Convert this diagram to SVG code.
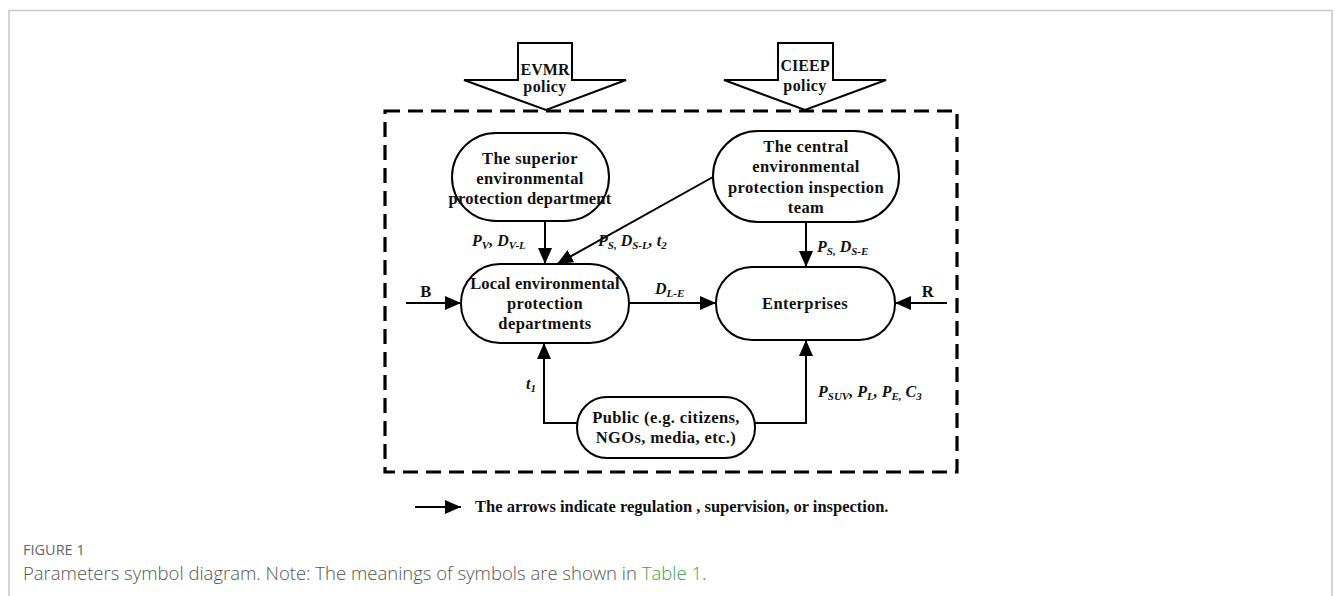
<svg xmlns="http://www.w3.org/2000/svg" width="1335" height="596" viewBox="0 0 1335 596">
<style>
.frame{fill:none;stroke:#c8c8c8;stroke-width:1.5}
.node{fill:#fff;stroke:#000;stroke-width:2}
.pol{fill:#fff;stroke:#000;stroke-width:2;stroke-linejoin:miter}
.dash{fill:none;stroke:#000;stroke-width:3.2;stroke-dasharray:15 8}
.ln{fill:none;stroke:#000;stroke-width:2}
.arr{fill:none;stroke:#000;stroke-width:2;marker-end:url(#ah)}
.t{font-family:"Liberation Serif",serif;font-weight:bold;font-size:16.5px;letter-spacing:0.4px;fill:#111;text-anchor:middle}
.lb{font-family:"Liberation Serif",serif;font-weight:bold;font-style:italic;font-size:16px;fill:#111}
.sub{font-size:11px}
.cap1{font-family:"Open Sans","Noto Sans",sans-serif;font-size:14.5px;fill:#666}
.cap2{font-family:"Open Sans","Noto Sans",sans-serif;font-weight:300;font-size:18.5px;fill:#555}
</style>
<defs>
<marker id="ah" viewBox="0 0 16 14" refX="16" refY="7" markerWidth="16" markerHeight="14" markerUnits="userSpaceOnUse" orient="auto">
<path d="M0,0 L16,7 L0,14 Z" fill="#000"/>
</marker>
</defs>
<path class="frame" d="M9,596 V10.5 H1332 V596"/>
<rect class="dash" x="385" y="111" width="572" height="361"/>
<g id="evmr">
<polygon class="pol" points="518,43 572,43 572,80 626,80 546,110 464,80 518,80"/>
<text class="t" x="545" y="75" style="letter-spacing:0;font-size:16px">EVMR</text>
<text class="t" x="545" y="92" style="font-size:16px">policy</text>
</g>
<g id="cieep">
<polygon class="pol" points="778,43 833,43 833,80 886,80 805,110 724,80 778,80"/>
<text class="t" x="805" y="71" style="letter-spacing:0;font-size:16px">CIEEP</text>
<text class="t" x="805" y="91" style="font-size:16px">policy</text>
</g>
<g id="connectors">
<line class="arr" x1="545" y1="221" x2="545" y2="264"/>
<line class="arr" x1="713" y1="177" x2="557" y2="264"/>
<line class="arr" x1="806" y1="222" x2="806" y2="267"/>
<line class="arr" x1="406" y1="303" x2="461" y2="303"/>
<line class="arr" x1="629" y1="303" x2="716" y2="303"/>
<line class="arr" x1="947" y1="303" x2="895" y2="303"/>
<polyline class="arr" points="577,423 544,423 544,343"/>
<polyline class="arr" points="755,423 806,423 806,340"/>
</g>
<g id="superior">
<rect class="node" x="452" y="133" width="157" height="88" rx="44" ry="44"/>
<text class="t" x="530" y="164">The superior</text>
<text class="t" x="530" y="184">environmental</text>
<text class="t" x="530" y="204" style="letter-spacing:0.2px">protection department</text>
</g>
<g id="central">
<rect class="node" x="713" y="131" width="186" height="91" rx="45" ry="45"/>
<text class="t" x="806" y="152">The central</text>
<text class="t" x="806" y="172">environmental</text>
<text class="t" x="806" y="193">protection inspection</text>
<text class="t" x="806" y="213">team</text>
</g>
<g id="local">
<rect class="node" x="461" y="264" width="168" height="79" rx="39" ry="39"/>
<text class="t" x="545" y="289" style="letter-spacing:0.2px">Local environmental</text>
<text class="t" x="545" y="309">protection</text>
<text class="t" x="545" y="329">departments</text>
</g>
<g id="enterprises">
<rect class="node" x="716" y="267" width="179" height="73" rx="36" ry="36"/>
<text class="t" x="805" y="309">Enterprises</text>
</g>
<g id="public">
<rect class="node" x="577" y="397" width="178" height="61" rx="30" ry="30"/>
<text class="t" x="666" y="423">Public (e.g. citizens,</text>
<text class="t" x="666" y="443">NGOs, media, etc.)</text>
</g>
<g id="labels">
<text class="t" x="426" y="297">B</text>
<text class="t" x="928" y="297">R</text>
<text class="lb" x="472" y="246">P<tspan class="sub" dy="3">V</tspan><tspan dy="-3">, D</tspan><tspan class="sub" dy="3">V-L</tspan></text>
<text class="lb" x="598" y="246">P<tspan class="sub" dy="3">S,</tspan><tspan dy="-3"> D</tspan><tspan class="sub" dy="3">S-L</tspan><tspan dy="-3">, t</tspan><tspan class="sub" dy="3">2</tspan></text>
<text class="lb" x="817" y="252">P<tspan class="sub" dy="3">S,</tspan><tspan dy="-3"> D</tspan><tspan class="sub" dy="3">S-E</tspan></text>
<text class="lb" x="655" y="294">D<tspan class="sub" dy="3">L-E</tspan></text>
<text class="lb" x="526" y="389">t<tspan class="sub" dy="3">1</tspan></text>
<text class="lb" x="818" y="397">P<tspan class="sub" dy="3">SUV</tspan><tspan dy="-3">, P</tspan><tspan class="sub" dy="3">L</tspan><tspan dy="-3">, P</tspan><tspan class="sub" dy="3">E,</tspan><tspan dy="-3"> C</tspan><tspan class="sub" dy="3">3</tspan></text>
</g>
<g id="legend">
<line class="arr" x1="415" y1="507" x2="461" y2="507"/>
<text class="t" x="475" y="512" style="text-anchor:start;font-size:16.5px;letter-spacing:0">The arrows indicate regulation , supervision, or inspection.</text>
</g>
<text class="cap1" x="23" y="555">FIGURE 1</text>
<text class="cap2" x="23" y="580">Parameters symbol diagram. Note: The meanings of symbols are shown in <tspan fill="#3aa54a">Table 1</tspan>.</text>
</svg>
